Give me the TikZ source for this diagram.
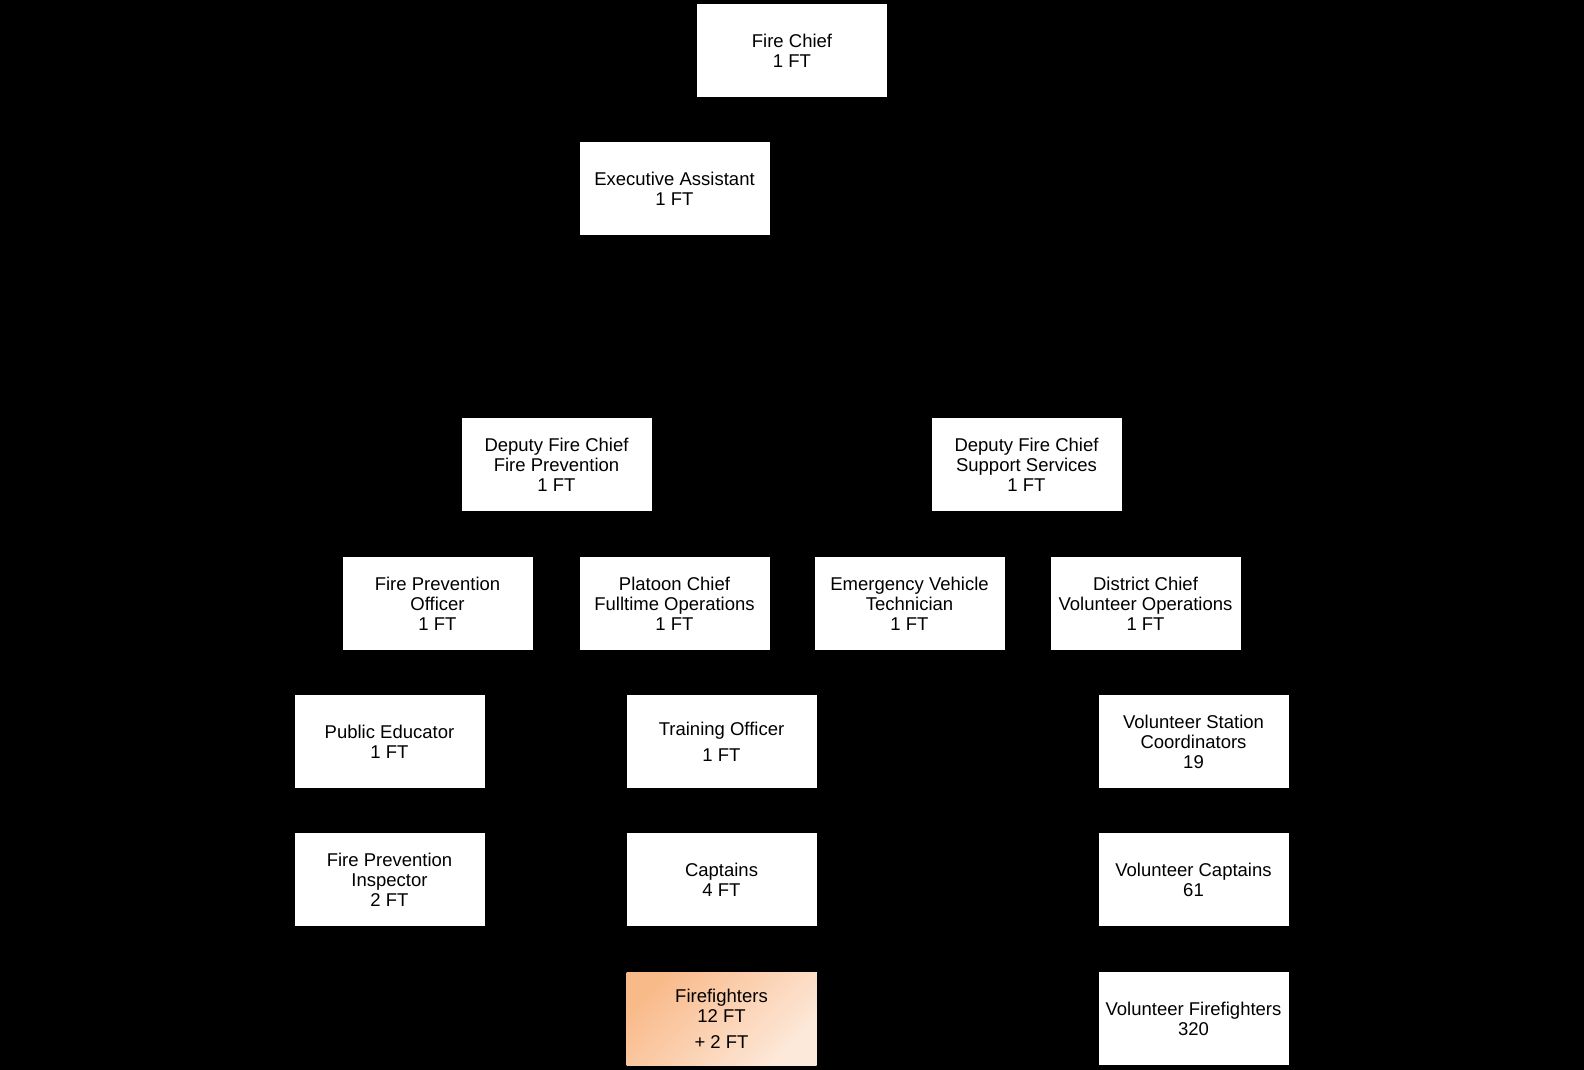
\documentclass[tikz,border=0pt]{standalone}
\usepackage{fontspec}
\setmainfont{Liberation Sans}
\usetikzlibrary{positioning}

\definecolor{ffdark}{RGB}{249,186,138}
\definecolor{fflight}{RGB}{253,233,218}

\begin{document}
\begin{tikzpicture}[x=1pt, y=-1pt,
    box/.style={fill=white, text=black, inner sep=0pt, align=center,
      minimum width=190pt, minimum height=93pt,
      font=\fontsize{18.5}{20}\selectfont},
    hotbox/.style={box, shade, top color=ffdark, bottom color=fflight,
      shading angle=45}]

  % --- background, fixes the page size ---
  \fill[black] (0,0) rectangle (1584,1070);
  \useasboundingbox (0,0) rectangle (1584,1070);

  % --- top ---
  \node[box] (chief) at (792, 51) {Fire Chief\\1 FT};
  \node[box] (exec)  at (674.5, 188.5) {Executive Assistant\\1 FT};

  % --- deputies ---
  \node[box] (depfp) at (556.5, 464.5) {Deputy Fire Chief\\Fire Prevention\\1 FT};
  \node[box] (depss) at (1026.5, 464.5) {Deputy Fire Chief\\Support Services\\1 FT};

  % --- third row ---
  \node[box] (fpo)      at (437.5, 603.5) {Fire Prevention\\Officer\\1 FT};
  \node[box] (platoon)  at (674.5, 603.5) {Platoon Chief\\Fulltime Operations\\1 FT};
  \node[box] (evt)      at (909.5, 603.5) {Emergency Vehicle\\Technician\\1 FT};
  \node[box] (district) at (1145.5, 603.5) {District Chief\\Volunteer Operations\\1 FT};

  % --- fourth row ---
  \node[box] (educator) at (389.5, 741.5) {Public Educator\\1 FT};
  \node[box] (training) at (721.5, 741.5) {Training Officer\\[6pt]1 FT};
  \node[box] (stations) at (1193.5, 741.5) {Volunteer Station\\Coordinators\\19};

  % --- fifth row ---
  \node[box] (inspector) at (389.5, 879.5) {Fire Prevention\\Inspector\\2 FT};
  \node[box] (captains)  at (721.5, 879.5) {Captains\\4 FT};
  \node[box] (volcapt)   at (1193.5, 879.5) {Volunteer Captains\\61};

  % --- bottom row ---
  \node[hotbox] (fighters) at (721.5, 1018.5) {Firefighters\\12 FT\\[6pt]+ 2 FT};
  \node[box] (volfight)    at (1193.5, 1018.5) {Volunteer Firefighters\\320};

\end{tikzpicture}
\end{document}
